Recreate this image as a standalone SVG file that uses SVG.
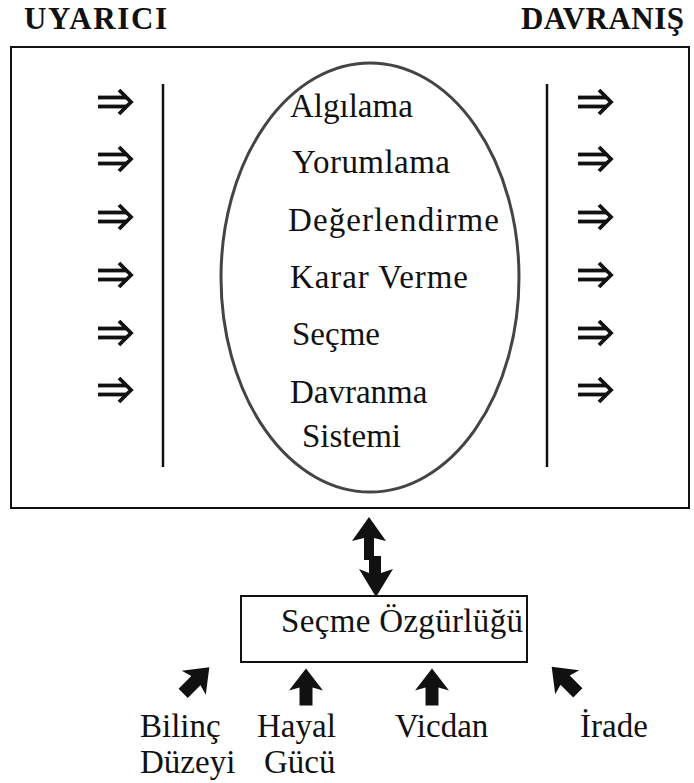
<svg xmlns="http://www.w3.org/2000/svg" xmlns:xlink="http://www.w3.org/1999/xlink" width="694" height="783" viewBox="0 0 694 783">
<style>
.t{font-family:"Liberation Serif","Times New Roman",serif;font-size:33px;fill:#111}
.h{font-family:"Liberation Serif","Times New Roman",serif;font-size:31px;font-weight:bold;fill:#111}
.ln{stroke:#111;stroke-width:2.5;fill:none}
.box{stroke:#111;stroke-width:2;fill:none}
.dbl{stroke:#111;stroke-width:3.8;fill:none}
.blk{fill:#111}
</style>
<defs>
<g id="dArrow">
<line class="dbl" x1="0" y1="-4.5" x2="29" y2="-4.5"/>
<line class="dbl" x1="0" y1="4.5" x2="29" y2="4.5"/>
<polyline class="dbl" points="21,-12 33,0 21,12"/>
</g>
<path id="upArrow" class="blk" d="M0,-18 L17,4 L6.5,1 L6.5,19 L-6.5,19 L-6.5,1 L-17,4 Z"/>
</defs>
<rect width="694" height="783" fill="#fff"/>
<g id="titles">
<text class="h" x="24" y="29" textLength="143" lengthAdjust="spacing">UYARICI</text>
<text class="h" x="521" y="29" textLength="163" lengthAdjust="spacing">DAVRANIŞ</text>
</g>
<g id="system">
<rect class="box" x="11" y="47" width="678" height="461"/>
<line class="ln" x1="163" y1="84" x2="163" y2="467"/>
<line class="ln" x1="547" y1="84" x2="547" y2="467"/>
<ellipse cx="370" cy="277.5" rx="149" ry="214.5" fill="none" stroke="#444" stroke-width="3"/>
<text class="t" x="290" y="117">Algılama</text>
<text class="t" x="292" y="173" textLength="158" lengthAdjust="spacing">Yorumlama</text>
<text class="t" x="288" y="231" textLength="211" lengthAdjust="spacing">Değerlendirme</text>
<text class="t" x="290" y="288" textLength="178" lengthAdjust="spacing">Karar Verme</text>
<text class="t" x="292" y="345">Seçme</text>
<text class="t" x="290" y="403">Davranma</text>
<text class="t" x="302" y="447">Sistemi</text>
</g>
<g id="inputs">
<use xlink:href="#dArrow" x="98" y="102"/>
<use xlink:href="#dArrow" x="98" y="159"/>
<use xlink:href="#dArrow" x="98" y="217"/>
<use xlink:href="#dArrow" x="98" y="275"/>
<use xlink:href="#dArrow" x="98" y="333"/>
<use xlink:href="#dArrow" x="98" y="390"/>
</g>
<g id="outputs">
<use xlink:href="#dArrow" x="578" y="102"/>
<use xlink:href="#dArrow" x="578" y="159"/>
<use xlink:href="#dArrow" x="578" y="217"/>
<use xlink:href="#dArrow" x="578" y="275"/>
<use xlink:href="#dArrow" x="578" y="333"/>
<use xlink:href="#dArrow" x="578" y="390"/>
</g>
<g id="freedom">
<rect class="box" x="241" y="596" width="286" height="66"/>
<text class="t" x="281" y="632" textLength="242" lengthAdjust="spacing">Seçme Özgürlüğü</text>
</g>
<g id="bilinc">
<text class="t" x="140" y="737">Bilinç</text>
<text class="t" x="140" y="773">Düzeyi</text>
</g>
<g id="hayal">
<text class="t" x="257" y="737">Hayal</text>
<text class="t" x="264" y="773">Gücü</text>
</g>
<g id="vicdan">
<text class="t" x="395" y="737">Vicdan</text>
</g>
<g id="irade">
<text class="t" x="580" y="737">İrade</text>
</g>
<g id="connectors">
<path class="blk" d="M369,517 L386,541 L374,538 L374,560 L364,560 L364,538 L352,541 Z"/>
<path class="blk" d="M376,597 L393,569 L381,573 L381,556 L369,556 L369,573 L359,569 Z"/>
<use xlink:href="#upArrow" transform="translate(196.6,679.9) rotate(45)"/>
<use xlink:href="#upArrow" transform="translate(306,686.5)"/>
<use xlink:href="#upArrow" transform="translate(432,686.5)"/>
<use xlink:href="#upArrow" transform="translate(564.4,679.4) rotate(-45)"/>
</g>
</svg>
